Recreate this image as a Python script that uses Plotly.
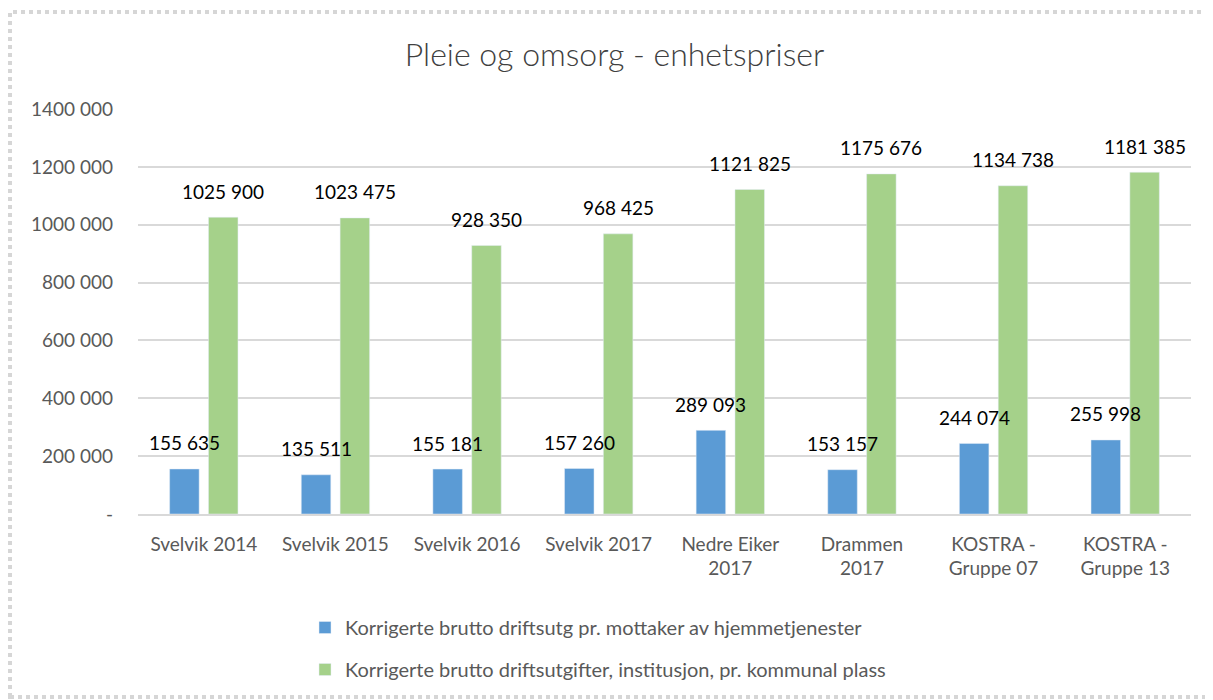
import plotly.graph_objects as go

categories = ["Svelvik 2014", "Svelvik 2015", "Svelvik 2016", "Svelvik 2017",
              "Nedre Eiker<br>2017", "Drammen<br>2017", "KOSTRA -<br>Gruppe 07", "KOSTRA -<br>Gruppe 13"]
series_names = ["Korrigerte brutto driftsutg pr. mottaker av hjemmetjenester",
                "Korrigerte brutto driftsutgifter, institusjon, pr. kommunal plass"]
hjemme = [155635, 135511, 155181, 157260, 289093, 153157, 244074, 255998]
institusjon = [1025900, 1023475, 928350, 968425, 1121825, 1175676, 1134738, 1181385]
tick_vals = [0, 200000, 400000, 600000, 800000, 1000000, 1200000, 1400000]
tick_text = ["-", "200 000", "400 000", "600 000", "800 000", "1000 000", "1200 000", "1400 000"]


def fmt(v):
    return f"{v // 1000} {v % 1000:03d}"


FONT = "Lato, Open Sans, sans-serif"
W, H = 1213, 700
# page is offset by the 8px body margin; coordinates below are figure coordinates
L, R, T, B = 130, 30, 101, 194
pw, ph = W - L - R, H - T - B
BARGAP, GROUPGAP = 0.41, 0.24

fig = go.Figure()
fig.add_trace(go.Bar(x=categories, y=hjemme, name=series_names[0], marker_color="#5B9BD5",
                     legendgroup="a"))
fig.add_trace(go.Bar(x=categories, y=institusjon, name=series_names[1], marker_color="#A5D18A",
                     legendgroup="b"))

slot = (1 - BARGAP) / 2
for i, (a, b) in enumerate(zip(hjemme, institusjon)):
    for off, v in ((-slot / 2, a), (slot / 2, b)):
        fig.add_annotation(x=i + off, y=v, xref="x", yref="y", text=fmt(v),
                           showarrow=False, yanchor="middle", yshift=26,
                           font=dict(size=19, color="#000000", family=FONT))


def px(x):
    return (x - L) / pw


def py(y):
    return (H - B - y) / ph


fig.add_shape(type="rect", xref="paper", yref="paper",
              x0=px(2), x1=px(1211), y0=py(689), y1=py(4),
              line=dict(color="#d6d6d6", width=4, dash="dot"), fillcolor="rgba(0,0,0,0)")

fig.update_layout(
    width=W, height=H,
    margin=dict(l=L, r=R, t=T, b=B),
    paper_bgcolor="white", plot_bgcolor="white",
    font=dict(family=FONT, color="#595959"),
    title=dict(text="Pleie og omsorg - enhetspriser", x=0.5, xanchor="center",
               y=1 - 47 / H, yanchor="middle",
               font=dict(size=32, color="#404040", family=FONT, weight=300)),
    barmode="group", bargap=BARGAP, bargroupgap=GROUPGAP,
    yaxis=dict(range=[0, 1400000], tickvals=tick_vals, ticktext=tick_text,
               showgrid=True, gridcolor="#d9d9d9", gridwidth=1.5, zeroline=False,
               tickfont=dict(size=19, color="#595959"), ticks="", ticklabelstandoff=24,
               showline=False),
    xaxis=dict(showline=True, linecolor="#d9d9d9", linewidth=1.5, ticks="",
               tickfont=dict(size=19, color="#595959"), ticklabelstandoff=12),
    legend=dict(x=px(297), y=py(600), xanchor="left", yanchor="top",
                font=dict(size=20, color="#595959"), tracegroupgap=13,
                traceorder="grouped", bgcolor="rgba(0,0,0,0)"),
    showlegend=True,
)

fig.write_html("out.html")
